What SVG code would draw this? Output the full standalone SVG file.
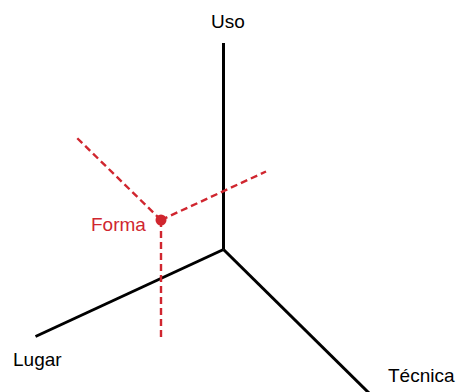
<svg xmlns="http://www.w3.org/2000/svg" width="460" height="392" viewBox="0 0 460 392">
<style>
.axis{stroke:#000;stroke-width:3;fill:none}
.dash{stroke:#d0262f;stroke-width:2.4;stroke-dasharray:7 4;fill:none}
.lbl{font-family:"Liberation Sans",Arial,sans-serif;font-size:19px;fill:#000}
.red{fill:#d0262f}
</style>
<rect width="460" height="392" fill="#fff"/>
<g id="connectors">
<line class="axis" x1="223.5" y1="249.5" x2="223.5" y2="43"/>
<line class="axis" x1="223.5" y1="249.5" x2="35.5" y2="336.5"/>
<line class="axis" x1="223.5" y1="249.5" x2="369" y2="393"/>
<line class="dash" x1="161" y1="220" x2="75" y2="136"/>
<line class="dash" x1="161" y1="220" x2="266" y2="171.5"/>
<line class="dash" x1="161" y1="220" x2="161" y2="341"/>
</g>
<g id="uso"><text class="lbl" x="228" y="28" text-anchor="middle">Uso</text></g>
<g id="lugar"><text class="lbl" x="13" y="366">Lugar</text></g>
<g id="tecnica"><text class="lbl" x="388" y="382">Técnica</text></g>
<g id="forma">
<circle class="red" cx="161" cy="220" r="5.5"/>
<text class="lbl red" x="91" y="231">Forma</text>
</g>
</svg>
